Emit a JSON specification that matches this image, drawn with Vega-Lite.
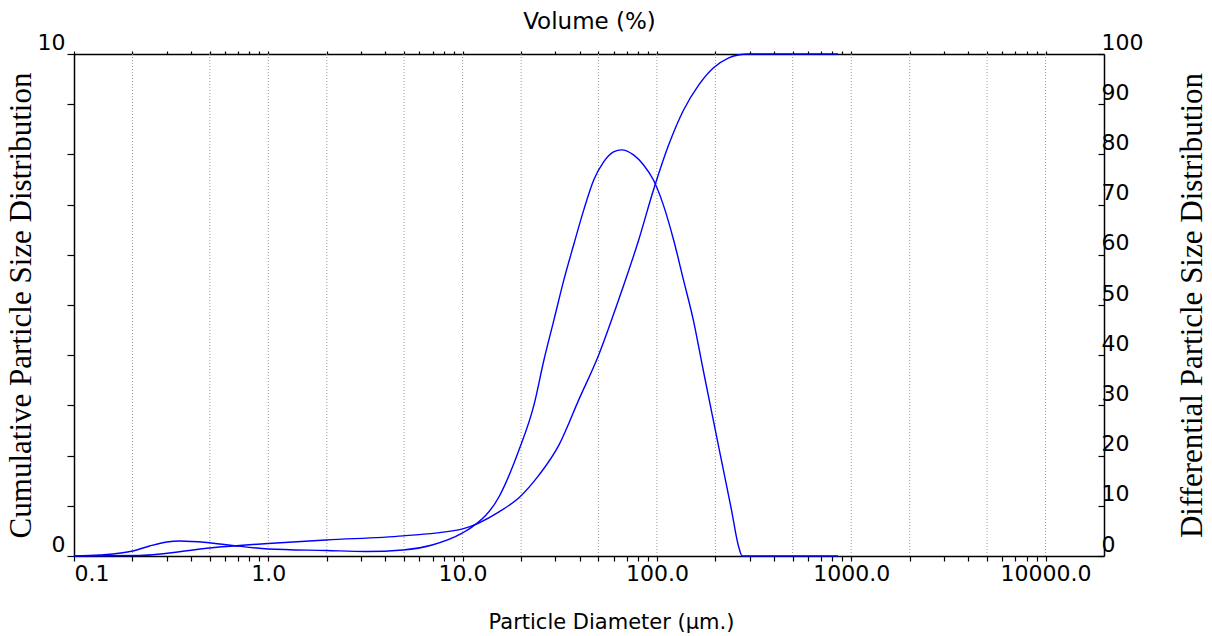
{
  "$schema": "https://vega.github.io/schema/vega-lite/v6.json",
  "width": 1030,
  "height": 502,
  "autosize": "none",
  "padding": {"left": 74, "top": 54, "right": 108, "bottom": 80},
  "background": "white",
  "config": {
    "view": {"stroke": null},
    "axis": {
      "domainColor": "black",
      "domainWidth": 1.5,
      "tickColor": "black",
      "tickWidth": 1.2,
      "labelColor": "black",
      "labelFont": "DejaVu Sans",
      "labelFontSize": 22,
      "titleColor": "black",
      "titleFontWeight": "normal",
      "grid": false,
      "labelOverlap": false,
      "labelBound": false
    }
  },
  "datasets": {
    "grid": [
      {"d": 0.2}, {"d": 0.5}, {"d": 1}, {"d": 2}, {"d": 5}, {"d": 10}, {"d": 20}, {"d": 50},
      {"d": 100}, {"d": 200}, {"d": 500}, {"d": 1000}, {"d": 2000}, {"d": 5000}, {"d": 10000}
    ],
    "diff": [
      {"d": 0.1, "v": 0},
      {"d": 0.136, "v": 0.02},
      {"d": 0.201, "v": 0.1},
      {"d": 0.245, "v": 0.2},
      {"d": 0.3, "v": 0.28},
      {"d": 0.35, "v": 0.3},
      {"d": 0.482, "v": 0.27},
      {"d": 0.655, "v": 0.21},
      {"d": 1.0, "v": 0.14},
      {"d": 1.99, "v": 0.11},
      {"d": 3.19, "v": 0.09},
      {"d": 4.94, "v": 0.12},
      {"d": 6.97, "v": 0.22},
      {"d": 10, "v": 0.46},
      {"d": 11.2, "v": 0.58},
      {"d": 15.4, "v": 1.18},
      {"d": 19.5, "v": 2.11},
      {"d": 23.3, "v": 3.01},
      {"d": 26.2, "v": 3.9},
      {"d": 29.5, "v": 4.7},
      {"d": 33.2, "v": 5.5},
      {"d": 37.3, "v": 6.2},
      {"d": 42.0, "v": 6.89},
      {"d": 47.3, "v": 7.49},
      {"d": 53.2, "v": 7.85},
      {"d": 59.8, "v": 8.05},
      {"d": 65.8, "v": 8.09},
      {"d": 75.8, "v": 7.99},
      {"d": 85.4, "v": 7.79},
      {"d": 96.0, "v": 7.49},
      {"d": 108, "v": 6.99},
      {"d": 122, "v": 6.29},
      {"d": 137, "v": 5.5},
      {"d": 154, "v": 4.7},
      {"d": 173, "v": 3.71},
      {"d": 195, "v": 2.71},
      {"d": 220, "v": 1.71},
      {"d": 242, "v": 0.92},
      {"d": 262, "v": 0.22},
      {"d": 275, "v": 0},
      {"d": 855, "v": 0}
    ],
    "cum": [
      {"d": 0.1, "v": 0},
      {"d": 0.218, "v": 0.1},
      {"d": 0.499, "v": 1.6},
      {"d": 1.0, "v": 2.5},
      {"d": 1.99, "v": 3.2},
      {"d": 4.94, "v": 4.0},
      {"d": 10, "v": 5.4},
      {"d": 15.4, "v": 8.8},
      {"d": 19.5, "v": 11.6},
      {"d": 24.7, "v": 16.1},
      {"d": 31.3, "v": 22.1},
      {"d": 39.6, "v": 31.1},
      {"d": 50.1, "v": 40.0},
      {"d": 63.5, "v": 51.0},
      {"d": 80.5, "v": 62.9},
      {"d": 96.0, "v": 72.9},
      {"d": 115, "v": 81.9},
      {"d": 137, "v": 88.8},
      {"d": 164, "v": 93.8},
      {"d": 195, "v": 97.2},
      {"d": 233, "v": 99.2},
      {"d": 262, "v": 99.8},
      {"d": 295, "v": 100},
      {"d": 855, "v": 100}
    ]
  },
  "layer": [
    {
      "data": {"name": "grid"},
      "mark": {"type": "rule", "color": "#999999", "strokeWidth": 1, "strokeDash": [1, 2]},
      "encoding": {
        "x": {"field": "d", "type": "quantitative", "scale": {"type": "log", "domain": [0.1, 20000], "nice": false}, "axis": null}
      }
    },
    {
      "data": {"name": "diff"},
      "mark": {"type": "line", "color": "#0000ff", "strokeWidth": 1.4, "interpolate": "monotone"},
      "encoding": {
        "x": {
          "field": "d", "type": "quantitative",
          "scale": {"type": "log", "domain": [0.1, 20000], "nice": false},
          "axis": {
            "orient": "bottom",
            "values": [0.1,0.2,0.3,0.4,0.5,0.6,0.7,0.8,0.9,1,2,3,4,5,6,7,8,9,10,20,30,40,50,60,70,80,90,100,200,300,400,500,600,700,800,900,1000,2000,3000,4000,5000,6000,7000,8000,9000,10000],
            "labelExpr": "indexof([0.1,1,10,100,1000,10000], datum.value) >= 0 ? format(datum.value, '.1f') : ''",
            "tickSize": 5,
            "labelPadding": 2,
            "title": "Particle Diameter (µm.)",
            "titleFont": "DejaVu Sans",
            "titleFontSize": 21,
            "titleX": 537,
            "titleAlign": "center",
            "titlePadding": 27
          }
        },
        "y": {
          "field": "v", "type": "quantitative",
          "scale": {"domain": [0, 10], "nice": false, "zero": true},
          "axis": {
            "orient": "left",
            "values": [0,1,2,3,4,5,6,7,8,9,10],
            "labelExpr": "datum.value == 0 || datum.value == 10 ? datum.label : ''",
            "labelBaseline": "bottom",
            "tickSize": 7,
            "labelPadding": 2,
            "title": "Cumulative Particle Size Distribution",
            "titleFont": "Liberation Serif",
            "titleFontSize": 31,
            "titlePadding": 0
          }
        }
      }
    },
    {
      "data": {"name": "cum"},
      "mark": {"type": "line", "color": "#0000ff", "strokeWidth": 1.4, "interpolate": "monotone"},
      "encoding": {
        "x": {
          "field": "d", "type": "quantitative",
          "scale": {"type": "log", "domain": [0.1, 20000], "nice": false},
          "axis": {
            "orient": "top",
            "values": [0.1,0.2,0.3,0.4,0.5,0.6,0.7,0.8,0.9,1,2,3,4,5,6,7,8,9,10,20,30,40,50,60,70,80,90,100,200,300,400,500,600,700,800,900,1000,2000,3000,4000,5000,6000,7000,8000,9000,10000],
            "labels": false,
            "tickSize": 3,
            "title": "Volume (%)",
            "titleFont": "DejaVu Sans",
            "titleFontSize": 23,
            "titlePadding": 17
          }
        },
        "y": {
          "field": "v", "type": "quantitative",
          "scale": {"domain": [0, 100], "nice": false, "zero": true},
          "axis": {
            "orient": "right",
            "values": [0,10,20,30,40,50,60,70,80,90,100],
            "labelBaseline": "bottom",
            "tickSize": -6,
            "labelPadding": 3,
            "title": "Differential Particle Size Distribution",
            "titleFont": "Liberation Serif",
            "titleFontSize": 31,
            "titleAngle": 270,
            "titleBaseline": "top",
            "titlePadding": 35
          }
        }
      }
    }
  ],
  "resolve": {
    "scale": {"y": "independent"},
    "axis": {"x": "independent", "y": "independent"}
  }
}
